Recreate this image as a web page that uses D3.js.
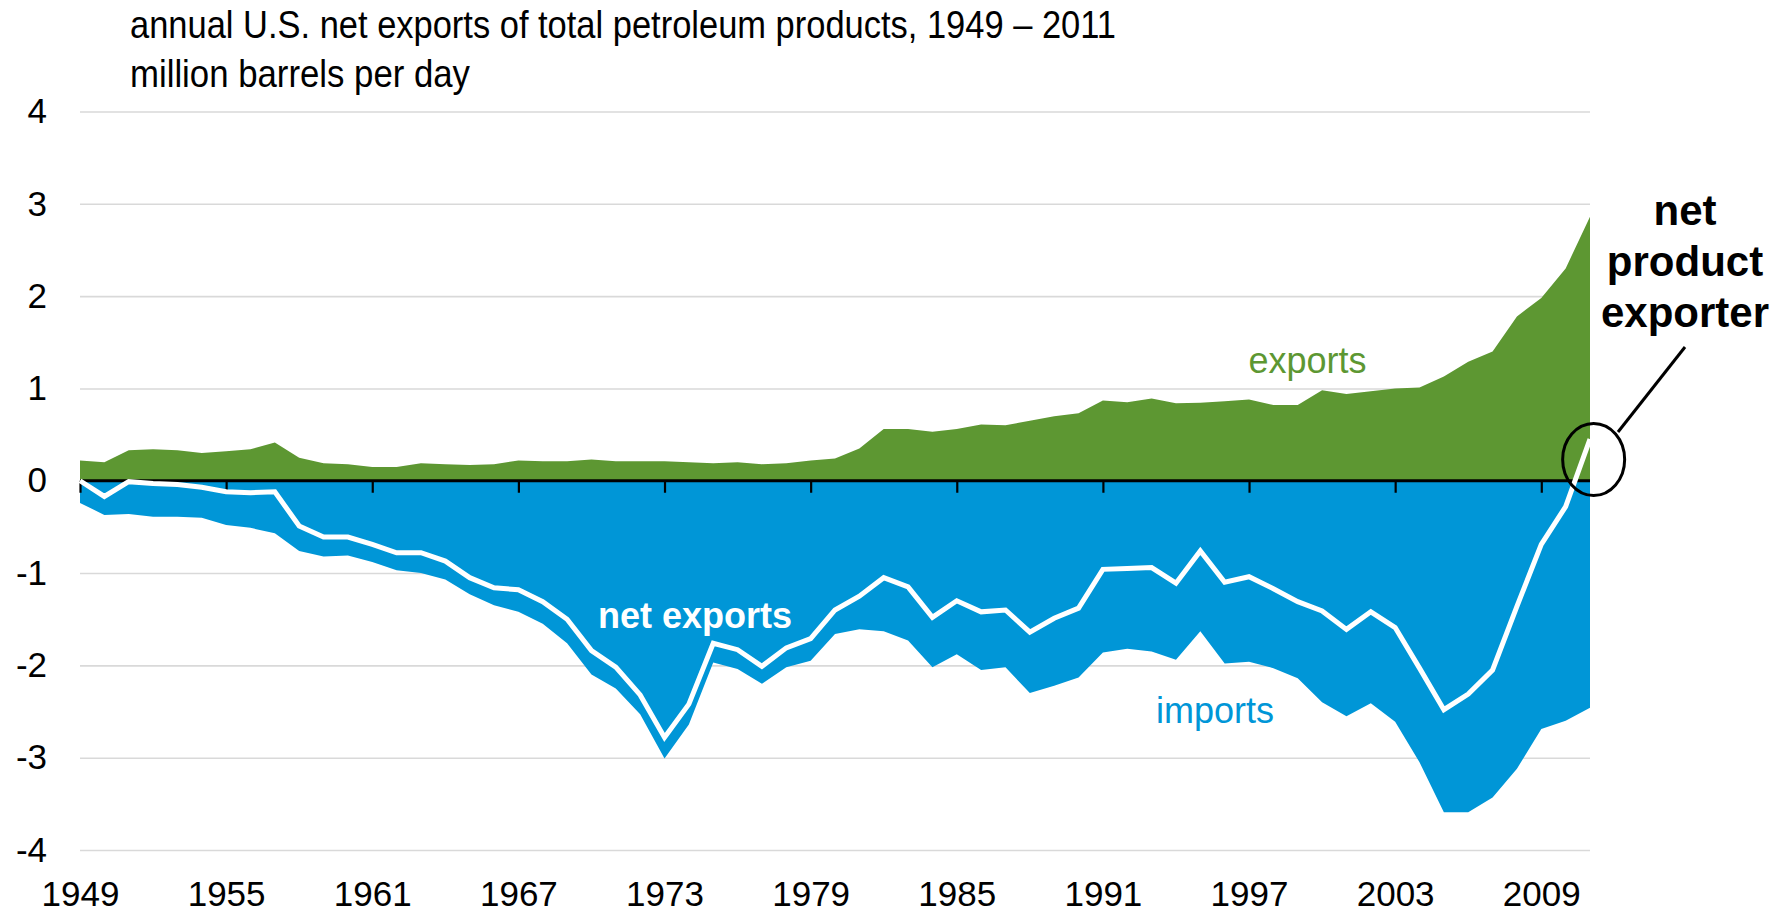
<!DOCTYPE html>
<html lang="en">

<head>
    <meta charset="UTF-8">
    <title>U.S. net exports of petroleum products</title>
    <script src="https://cdn.jsdelivr.net/npm/d3@7/dist/d3.min.js"></script>
    <style>
        body { margin: 0; background: #fff; }
        text { font-family: Arial, "Liberation Sans", sans-serif; }
    </style>
</head>

<body>
    <div id="app"></div>
    <script>
        var width = 1792;
        var height = 912;

        // million barrels per day
        var years = d3.range(1949, 2012);
        var exportsVals = [0.22, 0.20, 0.33, 0.34, 0.33, 0.30, 0.32, 0.34, 0.415, 0.25,
            0.19, 0.18, 0.15, 0.15, 0.19, 0.18, 0.17, 0.18, 0.22, 0.21,
            0.21, 0.23, 0.21, 0.21, 0.21, 0.20, 0.19, 0.20, 0.18, 0.19,
            0.22, 0.24, 0.35, 0.56, 0.56, 0.53, 0.56, 0.61, 0.60, 0.65,
            0.70, 0.73, 0.87, 0.85, 0.89, 0.84, 0.845, 0.86, 0.88, 0.82,
            0.82, 0.98, 0.94, 0.97, 1.00, 1.01, 1.13, 1.29, 1.40, 1.78,
            1.98, 2.30, 2.86];
        var importsVals = [0.24, 0.37, 0.36, 0.39, 0.39, 0.40, 0.48, 0.51, 0.57, 0.76,
            0.82, 0.81, 0.88, 0.97, 1.00, 1.07, 1.23, 1.35, 1.42, 1.55,
            1.76, 2.10, 2.25, 2.53, 3.01, 2.64, 1.97, 2.04, 2.20, 2.02,
            1.95, 1.66, 1.61, 1.63, 1.73, 2.02, 1.88, 2.05, 2.02, 2.30,
            2.22, 2.13, 1.86, 1.82, 1.85, 1.94, 1.63, 1.98, 1.96, 2.03,
            2.14, 2.40, 2.55, 2.41, 2.61, 3.05, 3.59, 3.59, 3.43, 3.12,
            2.69, 2.60, 2.46];
        var netVals = [0.00, -0.17, -0.01, -0.03, -0.04, -0.07, -0.12, -0.13, -0.12, -0.49,
            -0.61, -0.61, -0.69, -0.78, -0.78, -0.87, -1.05, -1.16, -1.18, -1.31,
            -1.50, -1.84, -2.02, -2.32, -2.78, -2.42, -1.76, -1.83, -2.01, -1.81,
            -1.71, -1.40, -1.25, -1.05, -1.15, -1.48, -1.30, -1.42, -1.40, -1.64,
            -1.49, -1.38, -0.96, -0.95, -0.94, -1.11, -0.76, -1.10, -1.04, -1.17,
            -1.31, -1.41, -1.61, -1.42, -1.59, -2.03, -2.48, -2.31, -2.05, -1.36,
            -0.69, -0.28, 0.45];
        var yTicks = [-4, -3, -2, -1, 0, 1, 2, 3, 4];
        var xTicks = [1949, 1955, 1961, 1967, 1973, 1979, 1985, 1991, 1997, 2003, 2009];

        var green = "#5d9732";
        var blue = "#0096d7";

        var svg = d3.select("#app")
            .append("svg")
            .attr("width", width)
            .attr("height", height);

        var x = d3.scaleLinear().domain([1949, 2011]).range([80, 1590]);
        var y = d3.scaleLinear().domain([-4, 4]).range([850, 111.5]);

        // grid + y labels (plain hyphen for negatives)
        var yAxis = svg.append("g")
            .attr("transform", "translate(80,0)")
            .call(d3.axisLeft(y).tickValues(yTicks).tickSize(-(1590 - 80)).tickPadding(33)
                .tickFormat(function (d) { return String(d); }));
        yAxis.select(".domain").remove();
        yAxis.selectAll("line").attr("stroke", "#d9d9d9").attr("stroke-width", 1.6);
        yAxis.selectAll("text").attr("font-size", 35).attr("fill", "#000");

        // year labels along the bottom
        var xLabels = svg.append("g")
            .attr("transform", "translate(0," + y(-4) + ")")
            .call(d3.axisBottom(x).tickValues(xTicks).tickSize(0).tickPadding(31).tickFormat(d3.format("d")));
        xLabels.select(".domain").remove();
        xLabels.selectAll("text").attr("font-size", 35).attr("fill", "#000");

        var exportsArea = d3.area()
            .x(function (d, i) { return x(years[i]); })
            .y0(y(0))
            .y1(function (d) { return y(d); });

        var importsArea = d3.area()
            .x(function (d, i) { return x(years[i]); })
            .y0(y(0))
            .y1(function (d) { return y(-d); });

        svg.append("path").attr("d", exportsArea(exportsVals)).attr("fill", green);
        svg.append("path").attr("d", importsArea(importsVals)).attr("fill", blue);

        // zero line with ticks hanging down
        var zeroAxis = svg.append("g")
            .attr("transform", "translate(0," + y(0) + ")")
            .call(d3.axisBottom(x).tickValues(xTicks).tickSize(12).tickFormat(""));
        zeroAxis.select(".domain")
            .attr("d", "M" + x(1949) + ",0H" + x(2011))
            .attr("stroke", "#000")
            .attr("stroke-width", 3);
        zeroAxis.selectAll("line").attr("stroke", "#000").attr("stroke-width", 2.2);

        var netLine = d3.line()
            .x(function (d, i) { return x(years[i]); })
            .y(function (d) { return y(d); });

        svg.append("path")
            .attr("d", netLine(netVals))
            .attr("fill", "none")
            .attr("stroke", "#fff")
            .attr("stroke-width", 5)
            .attr("stroke-linejoin", "miter");

        // series labels
        svg.append("text")
            .attr("x", x(1999.4)).attr("y", y(1.17))
            .attr("text-anchor", "middle")
            .attr("font-size", 36)
            .attr("fill", green)
            .text("exports");

        svg.append("text")
            .attr("x", x(1995.6)).attr("y", y(-2.62))
            .attr("text-anchor", "middle")
            .attr("font-size", 36)
            .attr("fill", blue)
            .text("imports");

        svg.append("text")
            .attr("x", x(1974.25)).attr("y", y(-1.6))
            .attr("text-anchor", "middle")
            .attr("font-size", 36)
            .attr("font-weight", "bold")
            .attr("fill", "#fff")
            .text("net exports");

        // callout
        svg.append("ellipse")
            .attr("cx", x(2011.15)).attr("cy", y(0.23))
            .attr("rx", 31).attr("ry", 36)
            .attr("fill", "none")
            .attr("stroke", "#000")
            .attr("stroke-width", 3);

        svg.append("line")
            .attr("x1", 1618).attr("y1", 432)
            .attr("x2", 1685).attr("y2", 347)
            .attr("stroke", "#000")
            .attr("stroke-width", 3);

        var callout = svg.append("text")
            .attr("text-anchor", "middle")
            .attr("font-size", 42)
            .attr("font-weight", "bold")
            .attr("fill", "#000");
        ["net", "product", "exporter"].forEach(function (s, i) {
            callout.append("tspan").attr("x", 1685).attr("y", 225 + i * 51).text(s);
        });

        // title - no narrow face installed, so squeeze a taller one
        svg.append("text")
            .attr("x", 130).attr("y", 38)
            .attr("font-size", 39)
            .attr("textLength", 986)
            .attr("lengthAdjust", "spacingAndGlyphs")
            .attr("fill", "#000")
            .text("annual U.S. net exports of total petroleum products, 1949 \u2013 2011");
        svg.append("text")
            .attr("x", 130).attr("y", 87)
            .attr("font-size", 39)
            .attr("textLength", 340)
            .attr("lengthAdjust", "spacingAndGlyphs")
            .attr("fill", "#000")
            .text("million barrels per day");
    </script>
</body>

</html>
